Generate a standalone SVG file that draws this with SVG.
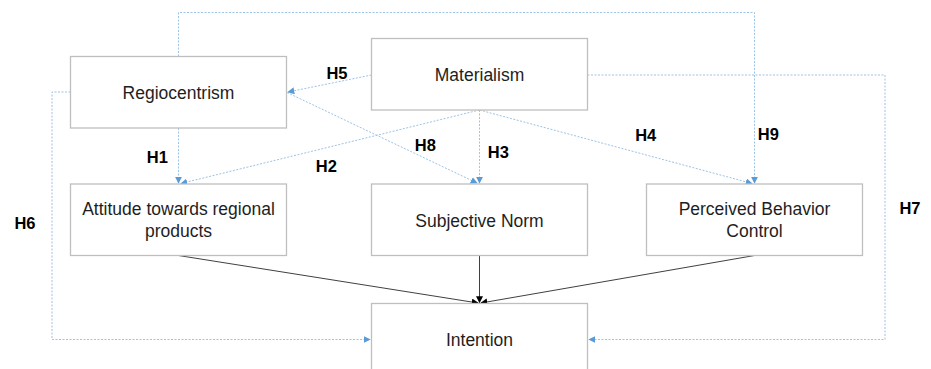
<svg xmlns="http://www.w3.org/2000/svg" width="931" height="369" viewBox="0 0 931 369">
<style>
.box{fill:#fff;stroke:#bfbfbf;stroke-width:1.3}
.t{font-family:"Liberation Sans",Arial,sans-serif;font-size:17.5px;fill:#1e1e1e;text-anchor:middle}
.h{font-family:"Liberation Sans",Arial,sans-serif;font-size:16.5px;font-weight:bold;fill:#000;text-anchor:middle}
.d{fill:none;stroke:#9dc3e6;stroke-width:1;stroke-dasharray:2,1.5}
.s{fill:none;stroke:#404040;stroke-width:1}
</style>
<defs>
<marker id="ab" viewBox="0 0 10 10" refX="9" refY="5" markerWidth="7" markerHeight="7" orient="auto" markerUnits="userSpaceOnUse">
<path d="M0,0 L10,5 L0,10 z" fill="#5b9bd5"/>
</marker>
<marker id="ak" viewBox="0 0 10 10" refX="9" refY="5" markerWidth="7" markerHeight="7" orient="auto" markerUnits="userSpaceOnUse">
<path d="M0,0 L10,5 L0,10 z" fill="#000"/>
</marker>
</defs>
<rect width="931" height="369" fill="#fff"/>
<g id="connectors">
<path class="d" d="M178.5,56.5 V12.5 H754.5 V183" marker-end="url(#ab)"/>
<path class="d" d="M587.5,75 H885 V339.5 H589" marker-end="url(#ab)"/>
<path class="d" d="M70.5,92 H52 V339.5 H370" marker-end="url(#ab)"/>
<path class="d" d="M371.5,75 L288,92" marker-end="url(#ab)"/>
<path class="d" d="M287,92.5 L477,183" marker-end="url(#ab)"/>
<path class="d" d="M479.5,110 L181,183.5" marker-end="url(#ab)"/>
<path class="d" d="M178.5,128 V183" marker-end="url(#ab)"/>
<path class="d" d="M479.5,110 V183" marker-end="url(#ab)"/>
<path class="d" d="M479.5,110 L752,183.5" marker-end="url(#ab)"/>
<path class="s" d="M178.5,255.5 L478,303" marker-end="url(#ak)"/>
<path class="s" d="M479.5,255.5 V302.5" marker-end="url(#ak)"/>
<path class="s" d="M754.5,255.5 L481,303" marker-end="url(#ak)"/>
</g>
<g id="regiocentrism"><rect class="box" x="70.5" y="56.5" width="216" height="71.5"/><text class="t" x="178.5" y="99">Regiocentrism</text></g>
<g id="materialism"><rect class="box" x="371.5" y="38.5" width="216" height="71.5"/><text class="t" x="479.5" y="81">Materialism</text></g>
<g id="attitude"><rect class="box" x="70.5" y="184" width="216" height="71.5"/><text class="t" x="178.5" y="215">Attitude towards regional</text><text class="t" x="178.5" y="237">products</text></g>
<g id="subjective-norm"><rect class="box" x="371.5" y="184" width="216" height="71.5"/><text class="t" x="479.5" y="226.5">Subjective Norm</text></g>
<g id="perceived"><rect class="box" x="646.5" y="184" width="216" height="71.5"/><text class="t" x="754.5" y="215">Perceived Behavior</text><text class="t" x="754.5" y="237">Control</text></g>
<g id="intention"><rect class="box" x="371.5" y="303.5" width="216" height="75"/><text class="t" x="479.5" y="345.5">Intention</text></g>
<g id="labels">
<text class="h" x="337" y="78.5">H5</text>
<text class="h" x="157.3" y="162.5">H1</text>
<text class="h" x="326.3" y="172">H2</text>
<text class="h" x="425.3" y="150.5">H8</text>
<text class="h" x="498.3" y="158">H3</text>
<text class="h" x="645.7" y="140.5">H4</text>
<text class="h" x="768.3" y="139.5">H9</text>
<text class="h" x="25" y="229">H6</text>
<text class="h" x="910" y="213.5">H7</text>
</g>
</svg>
